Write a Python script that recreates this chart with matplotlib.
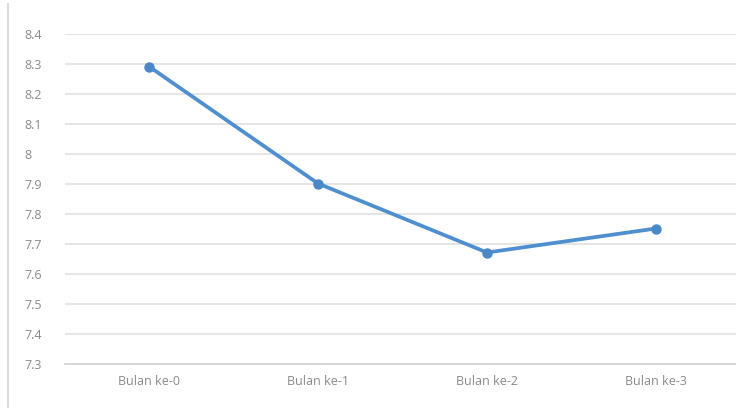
import matplotlib
matplotlib.use("Agg")
import matplotlib.pyplot as plt
from matplotlib.lines import Line2D

categories = ["Bulan ke-0", "Bulan ke-1", "Bulan ke-2", "Bulan ke-3"]
values = [8.29, 7.90, 7.67, 7.75]
y_ticks = [7.3, 7.4, 7.5, 7.6, 7.7, 7.8, 7.9, 8.0, 8.1, 8.2, 8.3, 8.4]
y_labels = ["7.3", "7.4", "7.5", "7.6", "7.7", "7.8", "7.9", "8", "8.1", "8.2", "8.3", "8.4"]

plt.rcParams["font.family"] = ["Open Sans", "DejaVu Sans"]

W, H = 736, 408
fig = plt.figure(figsize=(W / 100, H / 100), dpi=100)
fig.patch.set_facecolor("white")

# plot area in pixel coordinates
left_px, right_px = 64.5, 740.5
top_px, bottom_px = 33.5, 363.5
ax = fig.add_axes([left_px / W, (H - bottom_px) / H,
                   (right_px - left_px) / W, (bottom_px - top_px) / H])
ax.set_facecolor("white")

x = list(range(len(categories)))
ax.plot(x, values, color="#4f8fcf", linewidth=2.7, marker="o",
        markersize=6.5, markerfacecolor="#4a88c8", markeredgecolor="#4a88c8",
        zorder=3, solid_capstyle="round")

ax.set_xlim(-0.5, len(categories) - 0.5)
ax.set_ylim(7.3, 8.4)
ax.set_yticks(y_ticks)
ax.set_yticklabels(y_labels)
ax.set_xticks(x)
ax.set_xticklabels(categories)

ax.grid(axis="y", color="#e3e3e3", linewidth=1.3)
ax.set_axisbelow(True)
for s in ["top", "right", "left"]:
    ax.spines[s].set_visible(False)
ax.spines["bottom"].set_color("#d6d6d6")
ax.spines["bottom"].set_linewidth(1.3)

ax.tick_params(axis="both", length=0, colors="#8a8a8a", labelsize=9)
ax.tick_params(axis="x", pad=8)
ax.tick_params(axis="y", pad=29)
for lbl in ax.get_yticklabels():
    lbl.set_horizontalalignment("left")

# frame line on the left of the chart
fig.add_artist(Line2D([8 / W, 8 / W], [0, 1 - 4 / H], transform=fig.transFigure,
                      color="#dcdcdc", linewidth=1.5))

fig.savefig("out.png", dpi=100, facecolor="white")
